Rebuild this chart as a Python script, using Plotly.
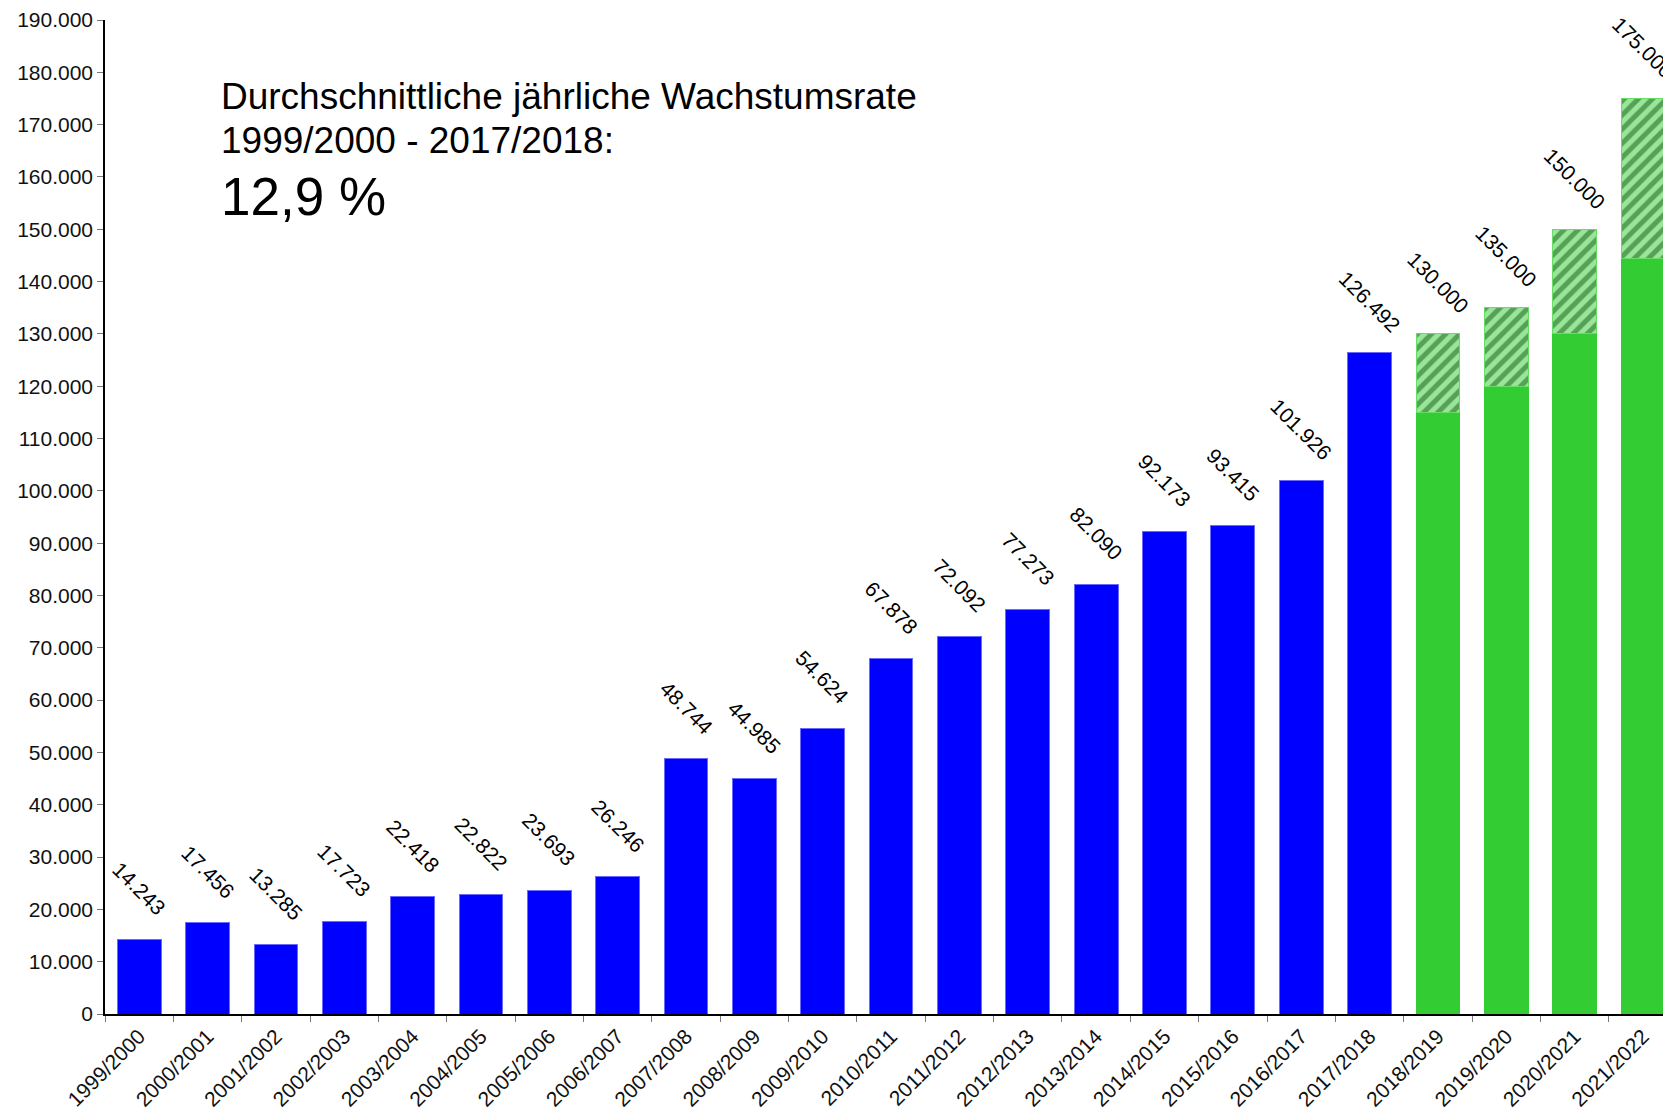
import plotly.graph_objects as go

categories = ["1999/2000", "2000/2001", "2001/2002", "2002/2003", "2003/2004", "2004/2005",
              "2005/2006", "2006/2007", "2007/2008", "2008/2009", "2009/2010", "2010/2011",
              "2011/2012", "2012/2013", "2013/2014", "2014/2015", "2015/2016", "2016/2017",
              "2017/2018", "2018/2019", "2019/2020", "2020/2021", "2021/2022"]

actual_values = [14243, 17456, 13285, 17723, 22418, 22822, 23693, 26246, 48744, 44985,
                 54624, 67878, 72092, 77273, 82090, 92173, 93415, 101926, 126492]
forecast_base = [115000, 120000, 130000, 144500]
forecast_total = [130000, 135000, 150000, 175000]

title_lines = ["Durchschnittliche jährliche Wachstumsrate", "1999/2000 - 2017/2018:", "12,9 %"]

n_act = len(actual_values)
fc_cats = categories[n_act:]
act_cats = categories[:n_act]
fc_upper = [t - b for t, b in zip(forecast_total, forecast_base)]
totals = actual_values + forecast_total

FONT = "Liberation Sans, Arial, sans-serif"

fig = go.Figure()
fig.add_trace(go.Bar(x=act_cats, y=actual_values,
                     marker=dict(color="#0000FF", line=dict(color="#6A6AFF", width=1)),
                     showlegend=False))
fig.add_trace(go.Bar(x=fc_cats, y=forecast_base,
                     marker=dict(color="#33CC33", line=dict(color="#33CC33", width=1)),
                     showlegend=False))
fig.add_trace(go.Bar(x=fc_cats, y=fc_upper,
                     marker=dict(color="#99E699", line=dict(color="#66DD66", width=1),
                                 pattern=dict(shape="/", fgcolor="#155A15", bgcolor="#99E699",
                                              size=10, solidity=0.5)),
                     showlegend=False))

def fmt(v):
    return f"{v:,}".replace(",", ".")

annotations = []
for c, v in zip(categories, totals):
    annotations.append(dict(x=c, y=v, xref="x", yref="y", text=fmt(v), textangle=45, showarrow=False,
                            xanchor="center", yanchor="middle", yshift=51,
                            font=dict(family=FONT, size=21, color="#000")))

annotations.append(dict(x=0.073, y=0.9229, xref="paper", yref="paper", text=title_lines[0], showarrow=False,
                        xanchor="left", yanchor="middle", font=dict(family=FONT, size=37, color="#000")))
annotations.append(dict(x=0.073, y=0.8786, xref="paper", yref="paper", text=title_lines[1], showarrow=False,
                        xanchor="left", yanchor="middle", font=dict(family=FONT, size=37, color="#000")))
annotations.append(dict(x=0.073, y=0.8225, xref="paper", yref="paper", text=title_lines[2], showarrow=False,
                        xanchor="left", yanchor="middle", font=dict(family=FONT, size=53, color="#000")))

fig.update_layout(
    width=1663, height=1109,
    margin=dict(l=97, r=0, t=12, b=103, autoexpand=False),
    paper_bgcolor="white", plot_bgcolor="white",
    barmode="stack", bargap=0.36,
    separators=",.",
    annotations=annotations,
    font=dict(family=FONT, size=21, color="#111"),
)
fig.update_xaxes(type="category", categoryorder="array", categoryarray=categories,
                 range=[-0.5, 22.41], tickson="boundaries", ticks="outside", ticklen=6, tickcolor="#777",
                 tickangle=-45, showline=True, linecolor="black", linewidth=1.5, showgrid=False,
                 tickfont=dict(size=21, color="#111"))
fig.update_yaxes(range=[0, 190000], dtick=10000, tickformat=",d", ticks="outside", ticklen=6, tickcolor="#777",
                 showline=True, linecolor="black", linewidth=1.5, showgrid=False, zeroline=False,
                 tickfont=dict(size=21, color="#111"))

fig.write_html("out.html")
